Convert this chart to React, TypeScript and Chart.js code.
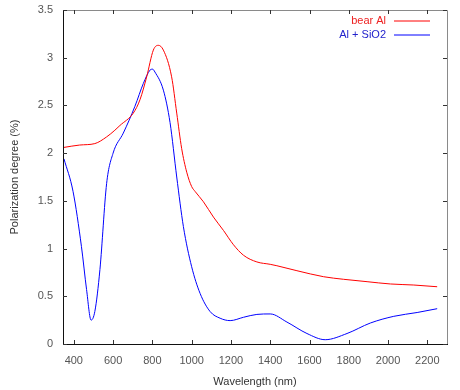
import React, { useEffect, useRef } from "react";
import { Chart, registerables } from "chart.js";

Chart.register(...registerables);

const bearAlX = [350, 430, 507, 567, 609, 635, 703, 737, 771, 805, 830, 856, 898, 924, 949, 975, 1000, 1017, 1060, 1111, 1162, 1213, 1264, 1332, 1400, 1434, 1536, 1672, 1774, 1893, 2012, 2131, 2250];
const bearAlY = [2.06, 2.085, 2.1, 2.17, 2.24, 2.29, 2.42, 2.56, 2.8, 3.08, 3.13, 3.08, 2.8, 2.42, 2.05, 1.8, 1.65, 1.6, 1.49, 1.33, 1.19, 1.04, 0.93, 0.86, 0.835, 0.82, 0.768, 0.705, 0.678, 0.653, 0.629, 0.618, 0.6];

const sio2X = [350, 396, 439, 465, 488, 507, 533, 567, 600, 652, 711, 754, 788, 801, 813, 856, 890, 924, 958, 1000, 1043, 1094, 1145, 1196, 1264, 1332, 1400, 1485, 1587, 1680, 1791, 1910, 2029, 2148, 2250];
const sio2Y = [1.94, 1.6, 1.02, 0.57, 0.25, 0.34, 0.78, 1.68, 2.0, 2.21, 2.49, 2.73, 2.87, 2.88, 2.85, 2.66, 2.32, 1.75, 1.23, 0.81, 0.53, 0.34, 0.27, 0.245, 0.28, 0.31, 0.315, 0.23, 0.11, 0.045, 0.11, 0.22, 0.29, 0.33, 0.37];

const xTicks = [400, 600, 800, 1000, 1200, 1400, 1600, 1800, 2000, 2200];
const yTicks = [0, 0.5, 1, 1.5, 2, 2.5, 3, 3.5];

const seriesNames = ["bear Al", "Al + SiO2"];
const seriesColors = ["#ff0000", "#0000ff"];
const legendTextColors = ["#ee2222", "#2222cc"];

const FONT = "'Liberation Sans', Arial, sans-serif";

const framePlugin = {
  id: "frame",
  afterDraw(chart: any) {
    const { ctx, chartArea } = chart;
    const { left, right, top, bottom } = chartArea;
    const xs = chart.scales.x;
    const ys = chart.scales.y;
    ctx.save();
    ctx.lineWidth = 1;
    ctx.strokeStyle = "#8a8a8a";
    ctx.beginPath();
    ctx.moveTo(left, top + 0.5);
    ctx.lineTo(right + 0.5, top + 0.5);
    ctx.lineTo(right + 0.5, bottom);
    ctx.stroke();
    ctx.strokeStyle = "#111";
    ctx.beginPath();
    ctx.moveTo(left + 0.5, top);
    ctx.lineTo(left + 0.5, bottom + 0.5);
    ctx.lineTo(right + 1, bottom + 0.5);
    ctx.stroke();
    const tl = 4;
    ctx.strokeStyle = "#333";
    ctx.beginPath();
    xTicks.forEach((v) => {
      const px = Math.round(xs.getPixelForValue(v)) + 0.5;
      ctx.moveTo(px, bottom);
      ctx.lineTo(px, bottom - tl);
      ctx.moveTo(px, top);
      ctx.lineTo(px, top + tl);
    });
    yTicks.forEach((v) => {
      const py = Math.round(ys.getPixelForValue(v)) + 0.5;
      ctx.moveTo(left, py);
      ctx.lineTo(left + tl, py);
      ctx.moveTo(right, py);
      ctx.lineTo(right - tl, py);
    });
    ctx.stroke();
    ctx.restore();

    ctx.save();
    ctx.font = `11px ${FONT}`;
    ctx.textBaseline = "middle";
    ctx.textAlign = "right";
    for (let i = 0; i < seriesNames.length; i++) {
      const y = 21 + i * 14;
      ctx.fillStyle = legendTextColors[i];
      ctx.fillText(seriesNames[i], 386, y);
      const line = new Path2D();
      line.moveTo(394, y);
      line.lineTo(430, y);
      ctx.lineWidth = 1;
      ctx.strokeStyle = seriesColors[i];
      ctx.stroke(line);
    }
    ctx.restore();
  },
};

export default function App() {
  const ref = useRef<HTMLCanvasElement | null>(null);
  useEffect(() => {
    if (!ref.current) return;
    const chart = new Chart(ref.current, {
      type: "line",
      data: {
        datasets: [
          {
            label: seriesNames[0],
            data: bearAlX.map((x, i) => ({ x, y: bearAlY[i] })),
            borderColor: seriesColors[0],
            borderWidth: 1,
            pointRadius: 0,
            cubicInterpolationMode: "monotone",
            fill: false,
          },
          {
            label: seriesNames[1],
            data: sio2X.map((x, i) => ({ x, y: sio2Y[i] })),
            borderColor: seriesColors[1],
            borderWidth: 1,
            pointRadius: 0,
            cubicInterpolationMode: "monotone",
            fill: false,
          },
        ],
      },
      options: {
        responsive: false,
        animation: false,
        layout: { padding: { left: 0, top: 10, right: 13, bottom: 0 } },
        plugins: { legend: { display: false }, tooltip: { enabled: false } },
        scales: {
          x: {
            type: "linear",
            min: 345,
            max: 2300,
            grid: { display: false },
            border: { display: false },
            afterFit: (s: any) => {
              s.height = 46;
            },
            afterBuildTicks: (s: any) => {
              s.ticks = xTicks.map((v) => ({ value: v }));
            },
            ticks: {
              padding: 2,
              color: "#555",
              font: { family: FONT, size: 11 },
              maxRotation: 0,
              autoSkip: false,
              callback: (v: any) => String(v),
            },
            title: {
              display: true,
              text: "Wavelength (nm)",
              color: "#333",
              font: { family: FONT, size: 11 },
              padding: { top: 0, bottom: 1 },
            },
          },
          y: {
            type: "linear",
            min: 0,
            max: 3.5,
            grid: { display: false },
            border: { display: false },
            afterFit: (s: any) => {
              s.width = 63;
            },
            afterBuildTicks: (s: any) => {
              s.ticks = yTicks.map((v) => ({ value: v }));
            },
            ticks: {
              padding: 2,
              color: "#555",
              font: { family: FONT, size: 11 },
              autoSkip: false,
              callback: (v: any) => String(v),
            },
            title: {
              display: true,
              text: "Polarization degree (%)",
              color: "#333",
              font: { family: FONT, size: 11 },
              padding: { top: 8, bottom: 0 },
            },
          },
        },
      } as any,
      plugins: [framePlugin],
    });
    return () => chart.destroy();
  }, []);
  return (
    <div style={{ position: "fixed", left: 0, top: 0, width: 460, height: 390, background: "#fff" }}>
      <canvas ref={ref} width={460} height={390} style={{ display: "block", width: 460, height: 390 }} />
    </div>
  );
}
